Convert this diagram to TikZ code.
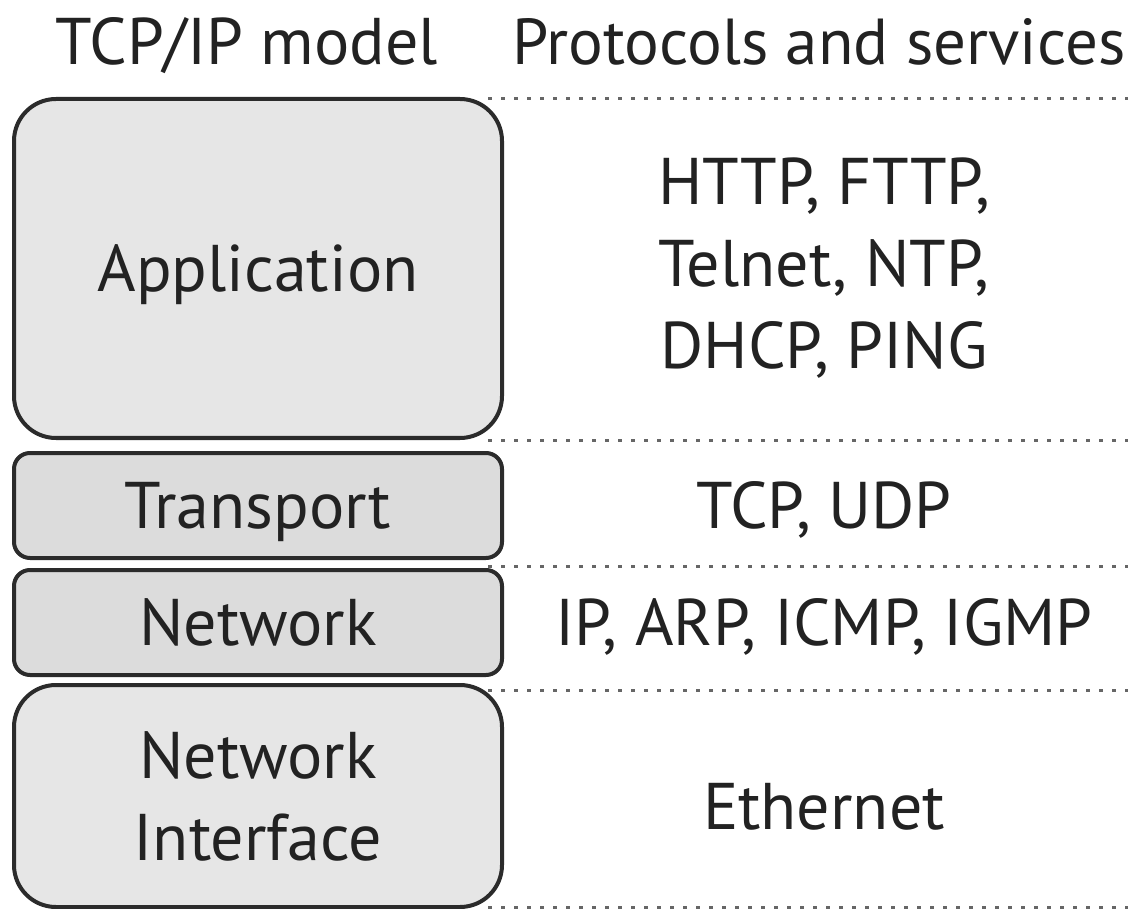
\documentclass[tikz,border=0pt]{standalone}
\usepackage{fontspec}
\setmainfont{PT Sans}
\definecolor{cadre}{HTML}{2B2B2B}
\definecolor{encre}{HTML}{222222}
\definecolor{fond}{HTML}{E6E6E6}
\definecolor{fondfonce}{HTML}{DCDCDC}
\definecolor{pointille}{HTML}{666666}
\newcommand\grostexte{\fontsize{66}{82}\selectfont}

\begin{document}
\begin{tikzpicture}[x=1pt,y=-1pt,
    couche/.style={draw=cadre,line width=4pt,fill=fond,text=encre,
        minimum width=488pt,inner sep=0pt,align=center,font=\grostexte},
    uneligne/.style={text height=46pt,text depth=0pt},
    proto/.style={text=encre,inner sep=0pt,align=center,font=\grostexte},
    titre/.style={text=encre,inner sep=0pt,font=\grostexte,anchor=base},
    sep/.style={draw=pointille,line width=3pt,dash pattern=on 4pt off 9pt}]
    \useasboundingbox (0,0) rectangle (1128,909);
    % titres
    \node[titre] (tcpip) at (247,65) {TCP/IP model};
    \node[titre,font=\fontsize{65}{80}\selectfont] (services) at (819,65) {Protocols and services};
    % couches du modele
    \node[couche,uneligne,rounded corners=42pt,minimum height=339pt] (app) at (258,268.5) {Application};
    \node[couche,uneligne,rounded corners=16pt,minimum height=105pt,fill=fondfonce] (transport) at (258,505.5) {Transport};
    \node[couche,uneligne,rounded corners=16pt,minimum height=105pt,fill=fondfonce] (network) at (258,622.5) {Network};
    \node[couche,rounded corners=42pt,minimum height=222pt] (netif) at (258,796) {Network\\Interface};
    % pointilles
    \foreach \y in {99,440,566,690,907}
        \draw[sep] (488,\y) -- (1128,\y);
    % protocoles
    \node[proto] (pApp) at (824,268.5) {HTTP, FTTP,\\Telnet, NTP,\\DHCP, PING};
    \node[proto,uneligne] (pTransport) at (824,505.5) {TCP, UDP};
    \node[proto,uneligne] (pNetwork) at (824,622.5) {IP, ARP, ICMP, IGMP};
    \node[proto,uneligne] (pNetif) at (824,806) {Ethernet};
\end{tikzpicture}
\end{document}
